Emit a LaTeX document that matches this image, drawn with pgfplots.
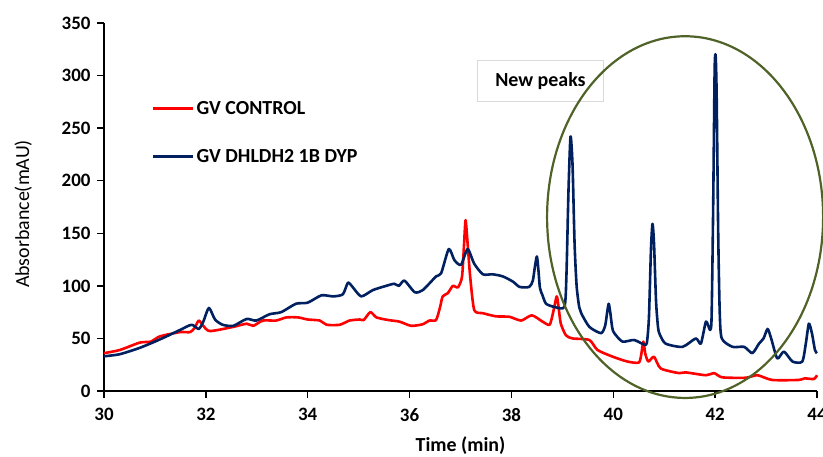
\documentclass[border=0pt]{standalone}
\usepackage{pgfplots}
\pgfplotsset{compat=1.18}
\usepackage{fontspec}
\setmainfont{Carlito}
\definecolor{cred}{RGB}{255,0,0}
\definecolor{cblue}{RGB}{0,32,96}
\definecolor{cgreen}{RGB}{79,98,40}
\begin{document}
\begin{tikzpicture}
\useasboundingbox (-104bp,-66bp) rectangle (719bp,391bp);
\begin{axis}[
  at={(0,0)}, anchor=south west,
  scale only axis, width=713bp, height=368bp,
  xmin=30, xmax=44, ymin=0, ymax=350,
  xtick={30,32,...,44}, ytick={0,50,...,350},
  axis lines=left, axis line style={-, line width=1.3bp},
  tick style={black, line width=1.3bp}, tick align=outside,
  major tick length=7bp,
  clip=false,
  /pgf/number format/assume math mode=true,
  tick label style={font=\fontsize{19}{22}\selectfont\bfseries},
  xticklabel style={yshift=-7bp},
  yticklabel style={xshift=-3bp},
  xlabel={\bfseries Time (min)},
  ylabel={Absorbance(mAU)},
  label style={font=\fontsize{20}{24}\selectfont},
  xlabel style={yshift=-8bp},
  ylabel style={yshift=23bp, xshift=-7bp},
  legend style={at={(0.067,0.793)}, anchor=north west, draw=none, fill=none,
    font=\fontsize{20}{24}\selectfont\bfseries, row sep=29bp,
    inner sep=0pt, nodes={inner sep=2bp}},
  legend cell align=left,
  legend image code/.code={\draw[#1] (0bp,0bp) -- (40bp,0bp);},
]
\addplot[cred, line width=2.6bp, line join=round, smooth, tension=0.4] coordinates {
(30.00,36) (30.31,39) (30.70,46) (30.92,47) (31.10,52) (31.49,56) (31.69,56)
(31.78,60) (31.86,67) (31.95,62) (32.08,57) (32.54,61) (32.80,64) (32.93,62)
(33.12,67) (33.38,67) (33.58,70) (33.81,70) (34.00,68) (34.24,67) (34.37,63)
(34.63,63) (34.82,67) (35.02,68) (35.10,67.5) (35.23,75) (35.35,70) (35.58,67.5)
(35.80,66) (36.03,62) (36.26,63.5) (36.39,67) (36.52,67.5) (36.60,80) (36.65,90)
(36.75,93) (36.85,100) (36.95,98.6) (37.03,108.7) (37.07,140) (37.10,162.5)
(37.14,140) (37.19,108.7) (37.27,77) (37.44,74) (37.70,71) (37.96,70.6)
(38.19,67) (38.40,72) (38.61,66) (38.75,63) (38.82,75) (38.89,90) (38.93,78)
(38.97,64) (39.07,53) (39.20,50) (39.53,48.5) (39.69,39) (39.99,32.6) (40.28,28)
(40.50,27) (40.55,35) (40.59,47) (40.63,35) (40.69,28) (40.80,32.6) (40.93,21.5)
(41.29,17) (41.42,17.7) (41.82,15) (41.98,17) (42.14,13) (42.60,12.6) (42.83,15)
(43.12,10.5) (43.63,10.5) (43.76,12) (43.94,11.4) (44.00,15)
};
\addlegendentry{GV CONTROL}
\addplot[cblue, line width=2.6bp, line join=round, smooth, tension=0.4] coordinates {
(30.00,33) (30.31,35) (30.70,41) (31.00,47) (31.23,52) (31.49,58) (31.72,63)
(31.86,59) (31.95,66) (32.06,79) (32.18,68) (32.33,63) (32.54,62) (32.80,68.5)
(32.99,67) (33.25,73) (33.48,75) (33.77,83) (34.00,84) (34.27,91) (34.50,90)
(34.69,92) (34.79,103) (34.88,99) (35.05,90) (35.28,96) (35.54,100) (35.70,102)
(35.79,100) (35.90,105) (36.10,94) (36.26,96) (36.52,109) (36.62,112) (36.77,135)
(36.88,124.5) (37.01,120) (37.14,135) (37.27,121) (37.44,111) (37.63,111)
(37.83,109) (38.03,104) (38.16,99) (38.35,99) (38.42,105) (38.46,118) (38.50,128)
(38.53,115) (38.56,98) (38.61,91) (38.68,83) (38.84,80) (39.04,80) (39.08,110)
(39.12,190) (39.16,242) (39.20,215) (39.24,140) (39.28,100) (39.33,80) (39.37,74)
(39.53,61) (39.76,55) (39.84,62) (39.88,75) (39.91,83) (39.94,75) (39.98,60)
(40.02,55) (40.18,47) (40.41,48.5) (40.61,44) (40.66,46) (40.70,70) (40.74,135)
(40.77,159) (40.80,140) (40.84,85) (40.88,60) (40.92,53) (41.03,45) (41.36,42)
(41.62,50) (41.72,45) (41.82,66) (41.90,58) (41.93,70) (41.96,170) (41.99,305)
(42.01,319) (42.03,280) (42.06,150) (42.09,75) (42.13,50) (42.34,42) (42.57,42)
(42.73,36) (42.86,45) (42.95,50) (43.03,59) (43.10,50) (43.22,31) (43.35,37.5)
(43.52,28) (43.71,28) (43.78,45) (43.84,64) (43.90,55) (43.96,39) (44.00,36)
};
\addlegendentry{GV DHLDH2 1B DYP}
\node[draw={rgb,255:red,217;green,217;blue,217}, fill=white, line width=0.8bp,
  minimum width=126bp, minimum height=41bp, inner sep=0pt,
  font=\fontsize{20}{24}\selectfont\bfseries] at (axis cs:38.57,294.7) {New peaks};
\draw[cgreen, line width=2.2bp] (axis cs:41.41,165.4) ellipse [x radius=2.71, y radius=172];
\end{axis}
\end{tikzpicture}
\end{document}
